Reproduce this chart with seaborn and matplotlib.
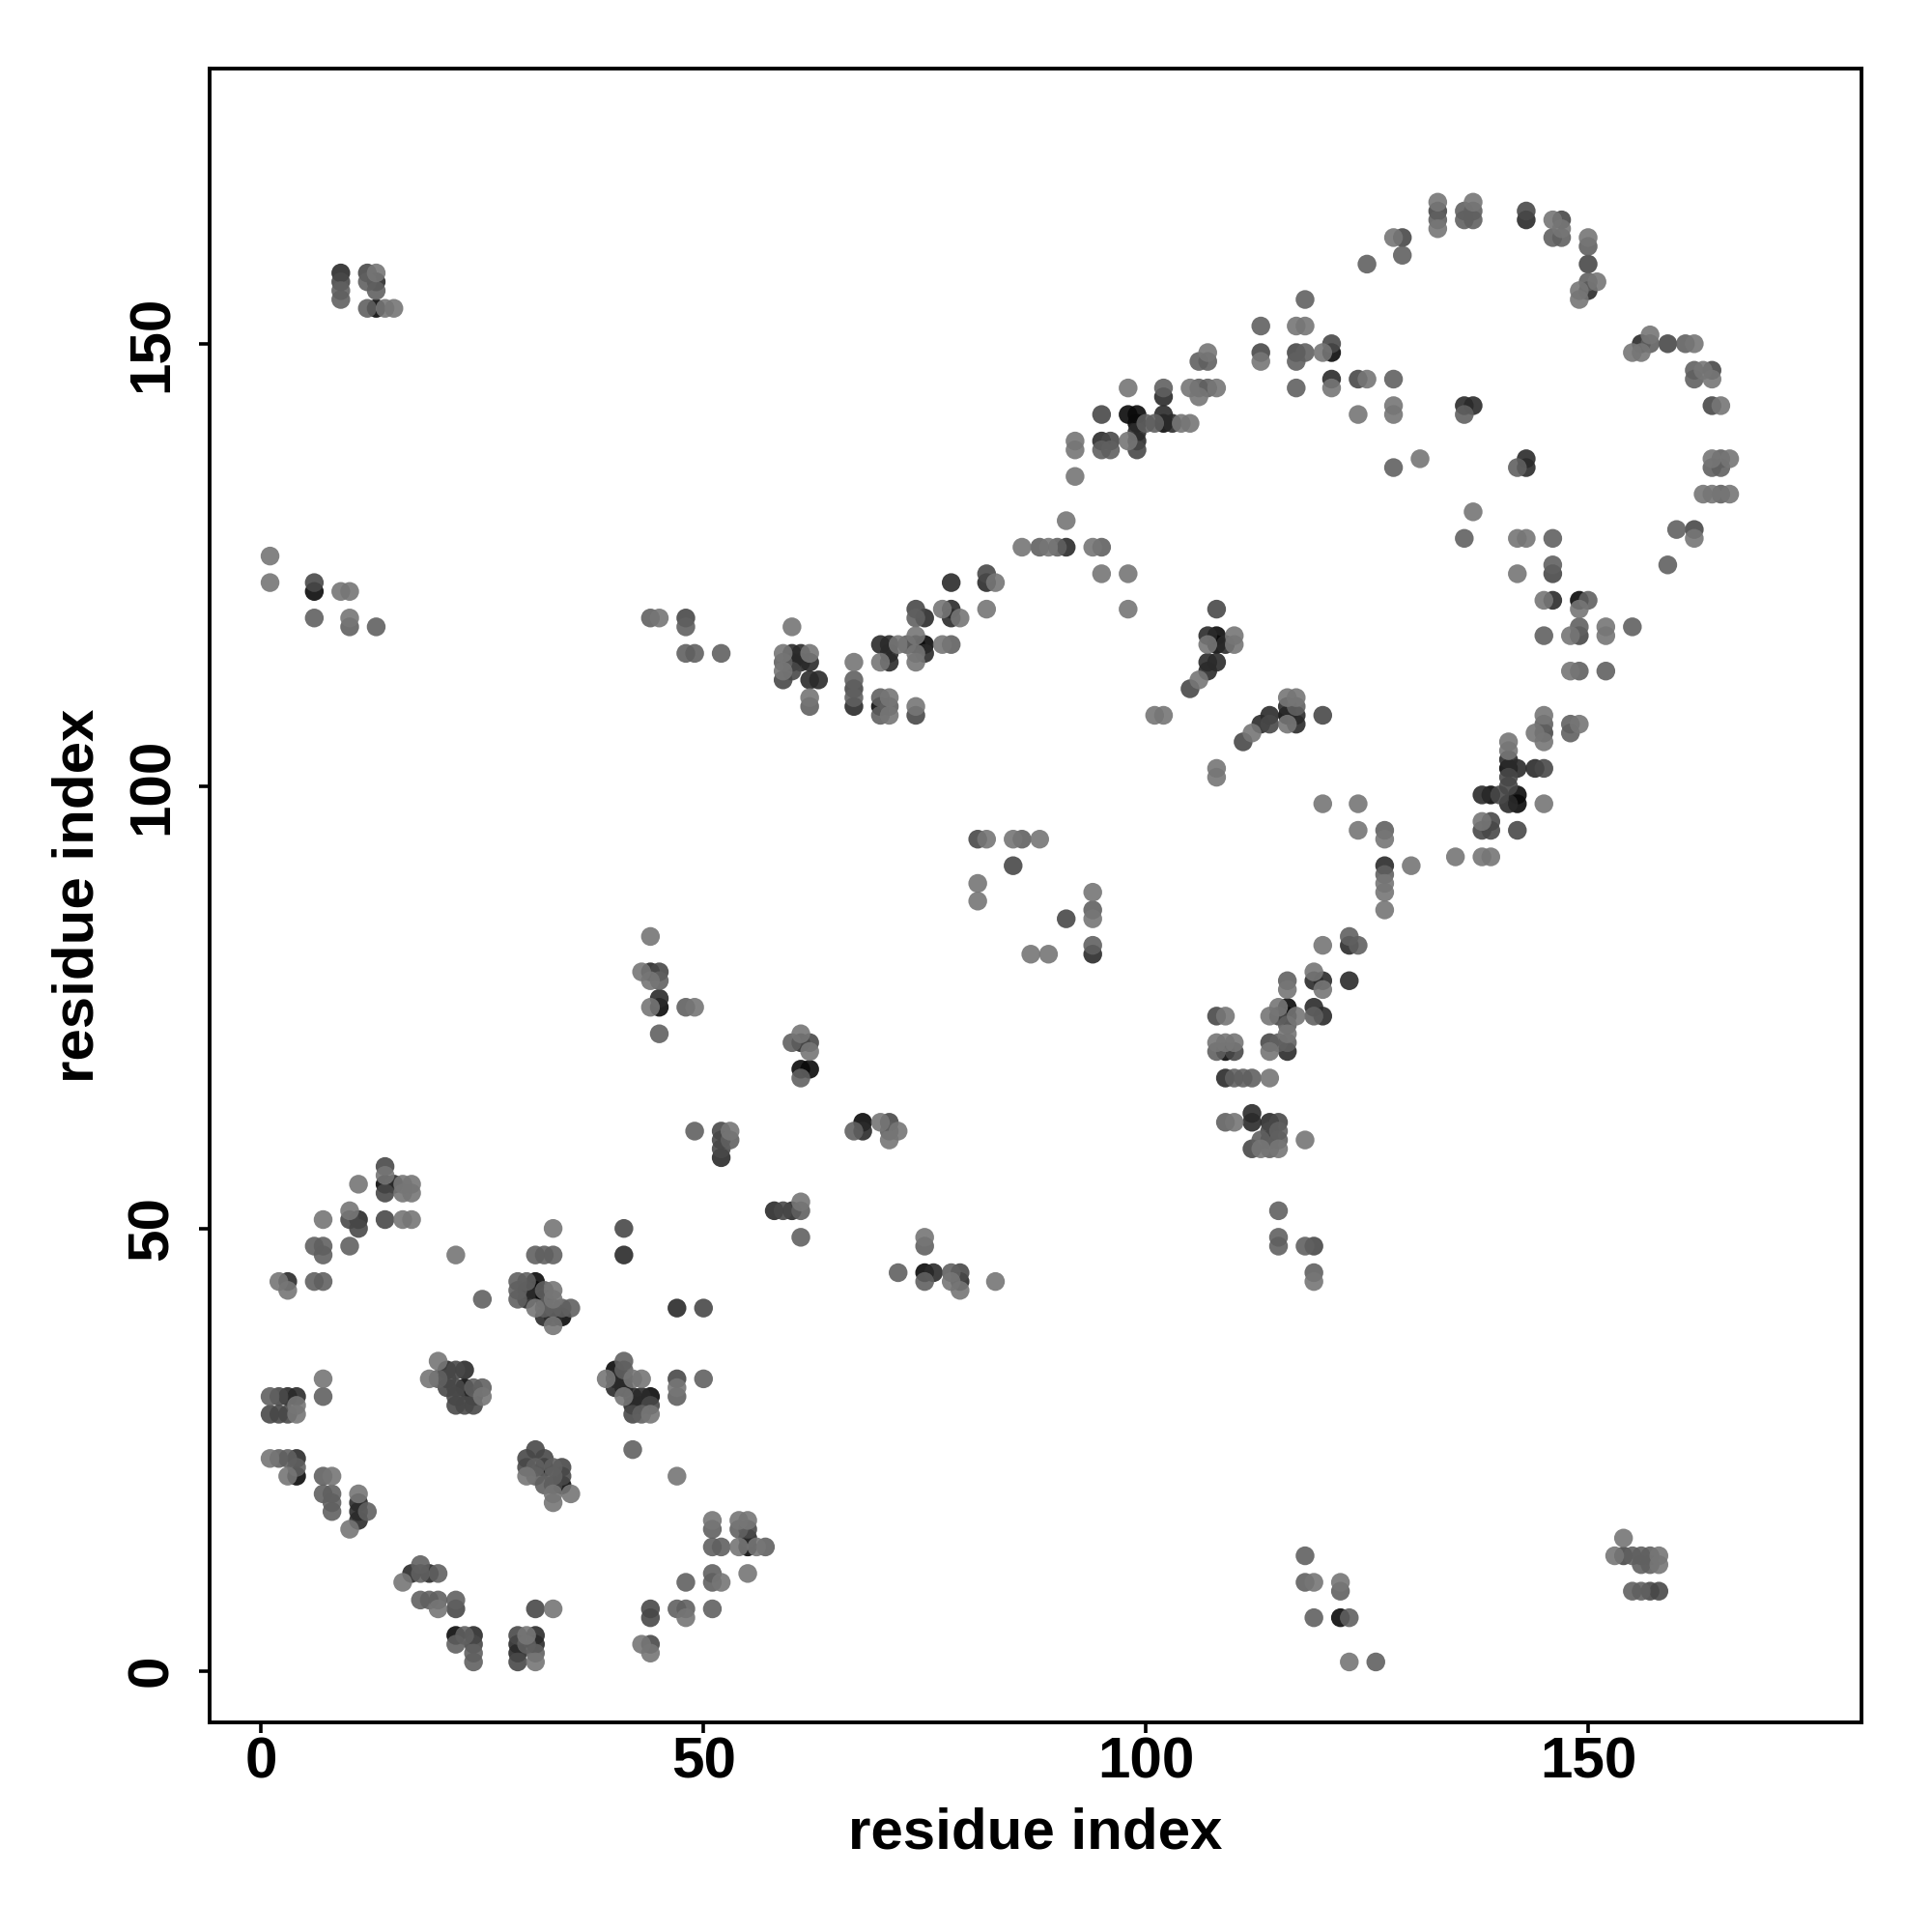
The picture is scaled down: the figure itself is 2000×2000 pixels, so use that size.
import pandas as pd
import matplotlib
matplotlib.use("Agg")
import matplotlib.pyplot as plt
import seaborn as sns

# contacts, grouped by how dark the dot is
contacts_black = [(32,42),(34,40),(22,4),(4,22),(40,34),(41,32),(23,32),(34,21),(32,23),(14,55),(44,31),(45,75),
    (61,68),(62,68),(68,62),(75,45),(55,14),(109,70),(116,75),(116,74),(116,108),(121,149),(139,99),(142,99),
    (142,98),(141,102),(108,117),(108,116),(98,142),(99,142),(99,141),(102,141),(149,121),(70,109),(75,116),
    (74,116),(60,114),(13,154),(6,122),(122,6),(31,44),(31,43)]
contacts_dark = [(3,44),(41,47),(4,31),(3,31),(4,24),(17,11),(19,11),(11,19),(11,18),(11,17),(24,4),(31,4),(29,3),
    (29,2),(31,3),(21,34),(24,31),(41,33),(40,33),(40,32),(42,31),(42,30),(43,31),(43,30),(52,58),(44,79),(45,76),
    (61,71),(68,61),(58,52),(60,52),(76,45),(79,44),(47,41),(15,55),(11,51),(119,78),(120,78),(123,78),(119,75),
    (120,74),(116,70),(109,67),(112,63),(112,62),(114,62),(114,60),(127,91),(141,103),(141,98),(138,99),(144,102),
    (142,102),(114,108),(113,107),(117,108),(117,107),(116,109),(123,82),(94,81),(102,144),(102,142),(103,141),
    (99,140),(99,139),(95,139),(91,127),(121,146),(143,137),(143,136),(136,143),(137,143),(107,117),(107,114),
    (108,114),(107,113),(109,116),(62,112),(63,112),(61,114),(62,114),(61,115),(60,115),(67,109),(70,116),(71,116),
    (71,115),(71,114),(75,115),(75,119),(78,123),(78,120),(78,119),(82,123),(146,121),(150,156),(143,164),(156,150),
    (9,158),(13,157),(55,15),(30,42),(30,43),(23,34),(33,40),(32,40)]
contacts_middark = [(1,29),(2,29),(3,29),(30,24),(30,23),(32,24),(34,23),(34,22),(31,7),(29,4),(29,1),(22,7),(47,33),
    (2,31),(31,25),(10,51),(14,51),(14,57),(50,41),(41,50),(45,79),(62,71),(71,62),(52,61),(52,60),(52,59),(59,52),
    (79,45),(55,16),(44,7),(44,6),(108,74),(114,71),(115,74),(110,70),(112,59),(119,48),(115,62),(114,61),(85,91),
    (91,85),(81,94),(139,96),(139,95),(141,101),(141,100),(145,102),(114,107),(111,105),(120,108),(105,111),(108,120),
    (138,95),(142,95),(145,106),(95,142),(96,139),(99,138),(113,149),(117,149),(124,146),(121,150),(129,162),(133,165),
    (143,165),(147,164),(150,159),(159,150),(164,147),(162,129),(164,143),(146,124),(149,117),(67,111),(59,112),
    (60,113),(48,119),(74,108),(74,120),(82,124),(9,157),(12,158),(6,123),(154,13),(157,9),(158,9),(33,21),(24,3),
    (23,30),(24,30),(22,30),(21,32),(21,33),(22,34),(22,32),(22,31),(44,30),(42,29),(14,54),(44,3),(11,50),(140,99)]
contacts_mid = [(6,48),(7,48),(7,47),(10,48),(25,42),(32,47),(33,47),(31,47),(6,44),(7,44),(29,44),(30,44),(29,43),
    (29,42),(32,43),(32,41),(33,41),(34,41),(35,41),(20,33),(25,32),(24,32),(1,31),(4,23),(7,31),(2,24),(3,24),(7,22),
    (7,20),(8,20),(8,19),(8,18),(12,18),(18,12),(18,11),(20,11),(18,8),(19,8),(20,8),(22,8),(22,3),(23,4),(24,2),(24,1),
    (30,3),(31,2),(31,23),(31,22),(33,22),(32,21),(33,23),(42,25),(41,35),(41,34),(43,29),(47,31),(50,33),(49,61),(53,60),
    (45,78),(45,72),(48,75),(60,71),(61,67),(67,61),(71,61),(61,52),(61,49),(75,48),(72,45),(75,44),(78,45),(57,14),
    (52,14),(51,16),(54,16),(51,14),(51,11),(51,10),(48,10),(47,7),(48,7),(51,7),(44,30),(116,78),(119,74),(116,73),(116,71),
    (115,71),(108,70),(110,67),(111,67),(112,67),(109,62),(115,61),(115,60),(113,60),(114,59),(115,52),(115,49),(115,48),
    (118,48),(119,45),(86,94),(94,86),(94,82),(127,95),(127,90),(120,74),(123,83),(124,82),(117,109),(145,107),(148,107),
    (148,106),(125,159),(118,155),(113,152),(118,149),(117,148),(128,146),(121,150),(128,136),(117,145),(106,148),(107,148),
    (106,145),(107,145),(102,145),(100,141),(101,141),(95,138),(96,138),(95,127),(90,127),(88,127),(136,164),(137,164),
    (136,165),(137,165),(133,164),(146,162),(147,162),(150,161),(150,157),(157,150),(161,150),(162,147),(162,146),(165,136),
    (164,136),(165,137),(165,133),(160,129),(159,125),(136,142),(142,136),(136,128),(146,128),(146,125),(129,160),(150,121),
    (145,117),(149,118),(149,113),(152,113),(155,118),(44,119),(48,118),(48,115),(49,115),(52,115),(59,114),(62,109),(67,112),
    (67,110),(73,116),(70,110),(71,109),(70,108),(74,119),(78,116),(118,13),(119,6),(122,9),(123,6),(126,1),(155,13),(156,13),
    (156,12),(157,13),(157,12),(155,9),(156,9),(9,155),(9,156),(12,157),(13,156),(12,154),(6,119),(10,118),(13,118),(118,10)]
contacts_light = [(22,47),(2,44),(3,43),(33,43),(31,41),(33,42),(33,39),(20,35),(19,33),(23,30),(25,31),(43,33),(39,33),
    (41,31),(44,29),(43,29),(1,24),(3,22),(8,22),(11,20),(10,16),(4,29),(4,30),(7,33),(2,31),(16,10),(20,7),(22,8),(33,7),
    (24,3),(30,4),(31,1),(31,25),(30,22),(33,20),(33,19),(35,20),(33,50),(7,51),(11,55),(10,52),(14,56),(16,51),(17,51),
    (16,54),(17,54),(17,55),(16,55),(42,33),(47,32),(47,22),(53,61),(44,83),(43,79),(44,78),(44,75),(49,75),(61,72),(60,71),
    (62,70),(70,62),(72,61),(71,60),(61,53),(75,49),(78,44),(79,43),(83,44),(87,81),(89,81),(51,17),(54,17),(55,17),(54,14),
    (56,14),(55,11),(52,10),(48,6),(43,3),(44,2),(116,77),(119,79),(120,77),(115,75),(114,74),(117,74),(116,72),(114,70),(109,74),
    (108,71),(109,71),(110,71),(114,67),(110,62),(115,62),(113,59),(115,59),(118,60),(119,44),(82,94),(85,94),(88,94),(81,89),
    (81,87),(94,88),(94,85),(120,82),(116,110),(117,110),(116,107),(112,106),(108,102),(108,101),(120,98),(124,98),(124,95),
    (127,94),(127,89),(127,88),(127,86),(130,91),(135,92),(138,92),(139,92),(138,96),(145,98),(141,105),(141,104),(145,108),
    (144,106),(145,105),(149,107),(117,152),(118,152),(113,148),(120,149),(121,145),(125,146),(124,142),(128,143),(128,142),
    (131,137),(107,149),(105,145),(108,145),(106,144),(98,145),(98,139),(92,139),(92,138),(92,135),(91,130),(94,127),(95,124),
    (98,124),(89,127),(86,127),(104,141),(105,141),(128,162),(133,166),(133,163),(137,166),(143,165),(146,164),(147,163),(150,162),
    (151,157),(149,156),(149,155),(157,151),(155,149),(156,149),(162,150),(163,147),(164,146),(165,143),(164,137),(166,137),
    (163,133),(164,133),(166,133),(162,128),(137,131),(142,128),(143,128),(142,124),(146,125),(145,121),(149,120),(148,117),
    (152,118),(152,117),(148,113),(98,120),(101,108),(102,108),(110,117),(110,116),(107,116),(106,112),(45,119),(60,118),(59,115),
    (62,115),(59,113),(62,110),(67,114),(72,116),(74,117),(70,114),(74,115),(74,114),(71,110),(71,108),(74,109),(77,120),(79,119),
    (83,123),(82,120),(77,116),(119,10),(122,10),(123,1),(154,15),(153,13),(158,13),(158,12),(14,154),(15,154),(1,126),(1,123),
    (9,122),(10,122),(10,119),(13,158),(52,61)]

shade_names = ["black", "dark", "middark", "mid", "light"]
shade_colors = ["#0a0a0a", "#2a2a2a", "#484848", "#606060", "#767676"]
shade_points = [contacts_black, contacts_dark, contacts_middark, contacts_mid, contacts_light]

frames = []
for name, pts in zip(shade_names, shade_points):
    f = pd.DataFrame(pts, columns=["x", "y"])
    f["shade"] = name
    frames.append(f)
# a contact sits in one group only, the darkest one it was read in
df = pd.concat(frames).drop_duplicates(["x", "y"])

sns.set_theme(style="white")
plt.rcParams["font.family"] = ["Liberation Sans", "DejaVu Sans"]

fig = plt.figure(figsize=(10, 10), dpi=200)
ax = fig.add_axes([217/2000, 1-1783/2000, (1927-217)/2000, (1783-71)/2000])
sns.scatterplot(data=df, x="x", y="y", hue="shade", hue_order=shade_names, palette=shade_colors,
                s=49, linewidth=0, alpha=0.9, legend=False, ax=ax)

ax.set_xlim(-5.83, 180.9)
ax.set_ylim(-5.83, 181.1)
ax.set_xticks([0, 50, 100, 150])
ax.set_yticks([0, 50, 100, 150])
ax.set_xlabel("residue index", fontsize=21.6, fontweight="bold", color="black", labelpad=6.5)
ax.set_ylabel("residue index", fontsize=21.6, fontweight="bold", color="black", labelpad=8)
ax.tick_params(axis="x", length=3.8, width=1.3, color="black", labelcolor="black", labelsize=21.7, pad=1.5, bottom=True)
ax.tick_params(axis="y", length=3.8, width=1.3, color="black", labelcolor="black", labelsize=21.7, pad=7.5, left=True)
for lab in ax.get_xticklabels():
    lab.set_fontweight("bold")
for lab in ax.get_yticklabels():
    lab.set_fontweight("bold")
    lab.set_rotation(90)
    lab.set_va("center")
for s in ax.spines.values():
    s.set_linewidth(1.4)
    s.set_color("black")

fig.savefig("out.png", dpi=200)
